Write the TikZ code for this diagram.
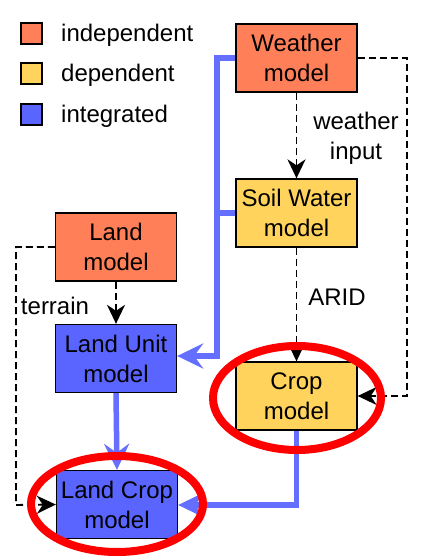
\documentclass[tikz,border=0pt]{standalone}
\usepackage{fontspec}
\setmainfont{Liberation Sans}
\usetikzlibrary{arrows.meta,calc}
\definecolor{indep}{RGB}{255,127,88}
\definecolor{dep}{RGB}{255,211,92}
\definecolor{integ}{RGB}{90,100,255}
\definecolor{bline}{RGB}{100,110,255}
\definecolor{ring}{RGB}{255,0,0}
\tikzset{
  dtip/.tip={Stealth[length=19pt,width=18pt,inset=6pt,sep=0pt]},
  btip/.tip={Stealth[length=26pt,width=25pt,inset=9pt,sep=0pt]},
  model/.style={draw=black, line width=1.3pt, minimum width=121pt, minimum height=68pt, align=center, inner sep=0pt, font=\fontsize{24}{30}\selectfont},
  legbox/.style={draw=black, line width=1.3pt, minimum width=21pt, minimum height=21pt, inner sep=0pt},
  legtext/.style={anchor=west, font=\fontsize{24}{30}\selectfont, inner sep=0pt},
  lbl/.style={font=\fontsize{24}{30}\selectfont, align=center, inner sep=0pt},
  dep arrow/.style={draw=black, line width=1.9pt, dash pattern=on 7pt off 4pt, -dtip},
  int arrow/.style={draw=bline, line width=5.5pt, -btip},
  int line/.style={draw=bline, line width=5.5pt},
  mark ring/.style={draw=ring, line width=8pt}
}
\begin{document}
\begin{tikzpicture}[x=1pt,y=-1pt]
\useasboundingbox (0,0) rectangle (424,556);
% legend
\node[legbox, fill=indep] (l1) at (31.5,33.5) {};
\node[legbox, fill=dep] (l2) at (31.5,73.5) {};
\node[legbox, fill=integ] (l3) at (31.5,114.5) {};
\node[legtext] (t1) at (61,35) {independent};
\node[legtext] (t2) at (61,75) {dependent};
\node[legtext] (t3) at (61,116) {integrated};
% models
\node[model, fill=indep] (weather) at (296.5,58) {Weather\\model};
\node[model, fill=dep] (soil) at (296.5,213) {Soil Water\\model};
\node[model, fill=indep] (land) at (116,247) {Land\\model};
\node[model, fill=integ] (unit) at (116,358.5) {Land Unit\\model};
\node[model, fill=dep] (crop) at (296.5,396) {Crop\\model};
\node[model, fill=integ] (lcrop) at (117,504.5) {Land Crop\\model};
% coordinates
\coordinate (wx) at (407,58);
\coordinate (wy) at (407,396);
\coordinate (lx) at (16,247);
\coordinate (ly) at (16,505);
\coordinate (bt) at (217,58);
\coordinate (bs) at (217,213);
\coordinate (bb) at (217,356);
\coordinate (cb) at (296.5,505);
% dashed dependencies
\draw[dep arrow] (weather.south) -- (soil.north);
\draw[dep arrow] (soil.south) -- (crop.north);
\draw[dep arrow] (land.south) -- (unit.north);
\draw[dep arrow] (weather.east) -- (wx) -- (wy) -- (crop.east);
\draw[dep arrow] (land.west) -- (lx) -- (ly) -- (lcrop.west);
% labels
\node[lbl] (winp) at (356,138) {weather\\input};
\node[lbl] (arid) at (337,297) {ARID};
\node[lbl] (terr) at (55,306) {terrain};
% integration
\draw[int line] (weather.west) -- (bt) -- (bs);
\draw[int line] (soil.west) -- (bs);
\draw[int arrow] (bs) -- (bb) -- (unit.east |- bb);
\draw[int arrow] (unit.south) -- (lcrop.north);
\draw[int arrow] (crop.south) -- (cb) -- (lcrop.east |- cb);
% highlight rings
\draw[mark ring] (297,398) ellipse [x radius=84pt, y radius=52pt];
\draw[mark ring] (117,504) ellipse [x radius=86pt, y radius=48pt];
\end{tikzpicture}
\end{document}
